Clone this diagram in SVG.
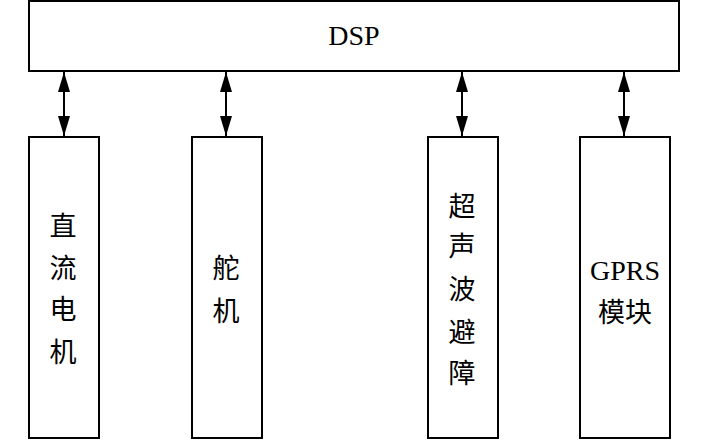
<svg xmlns="http://www.w3.org/2000/svg" width="709" height="441" viewBox="0 0 709 441">
<style>
.box{fill:#fff;stroke:#000;stroke-width:2}
.lat{font-family:"Liberation Serif","Times New Roman",serif;font-size:28px;fill:#000;text-anchor:middle}
.cjk{font-family:"Liberation Serif","Noto Sans CJK SC",sans-serif;font-size:27px;fill:#000;text-anchor:middle}
.conn{stroke:#000;stroke-width:2;fill:none;marker-start:url(#ah);marker-end:url(#ah)}
</style>
<defs>
<marker id="ah" markerUnits="userSpaceOnUse" markerWidth="20" markerHeight="12" viewBox="0 0 20 12" refX="20" refY="6" orient="auto-start-reverse">
<path d="M0,0 L20,6 L0,12 Z" fill="#000"/>
</marker>
</defs>
<rect width="709" height="441" fill="#fff"/>
<g id="dsp">
<rect class="box" x="29" y="1" width="650" height="70"/>
<text class="lat" x="354" y="45">DSP</text>
</g>
<g id="motor">
<rect class="box" x="29" y="137" width="70" height="301"/>
<text class="cjk" x="63" y="236">直</text>
<text class="cjk" x="63" y="278">流</text>
<text class="cjk" x="63" y="319">电</text>
<text class="cjk" x="63" y="362">机</text>
</g>
<g id="servo">
<rect class="box" x="192" y="137" width="70" height="301"/>
<text class="cjk" x="226" y="278">舵</text>
<text class="cjk" x="226" y="321">机</text>
</g>
<g id="ultrasonic">
<rect class="box" x="428" y="137" width="70" height="301"/>
<text class="cjk" x="462" y="216">超</text>
<text class="cjk" x="462" y="256">声</text>
<text class="cjk" x="462" y="299">波</text>
<text class="cjk" x="462" y="342">避</text>
<text class="cjk" x="462" y="383">障</text>
</g>
<g id="gprs">
<rect class="box" x="580" y="137" width="90" height="301"/>
<text class="lat" x="625" y="280">GPRS</text>
<text class="cjk" x="625" y="322">模块</text>
</g>
<g id="connectors">
<line class="conn" x1="64" y1="72" x2="64" y2="136"/>
<line class="conn" x1="226" y1="72" x2="226" y2="136"/>
<line class="conn" x1="462" y1="72" x2="462" y2="136"/>
<line class="conn" x1="624" y1="72" x2="624" y2="136"/>
</g>
</svg>
